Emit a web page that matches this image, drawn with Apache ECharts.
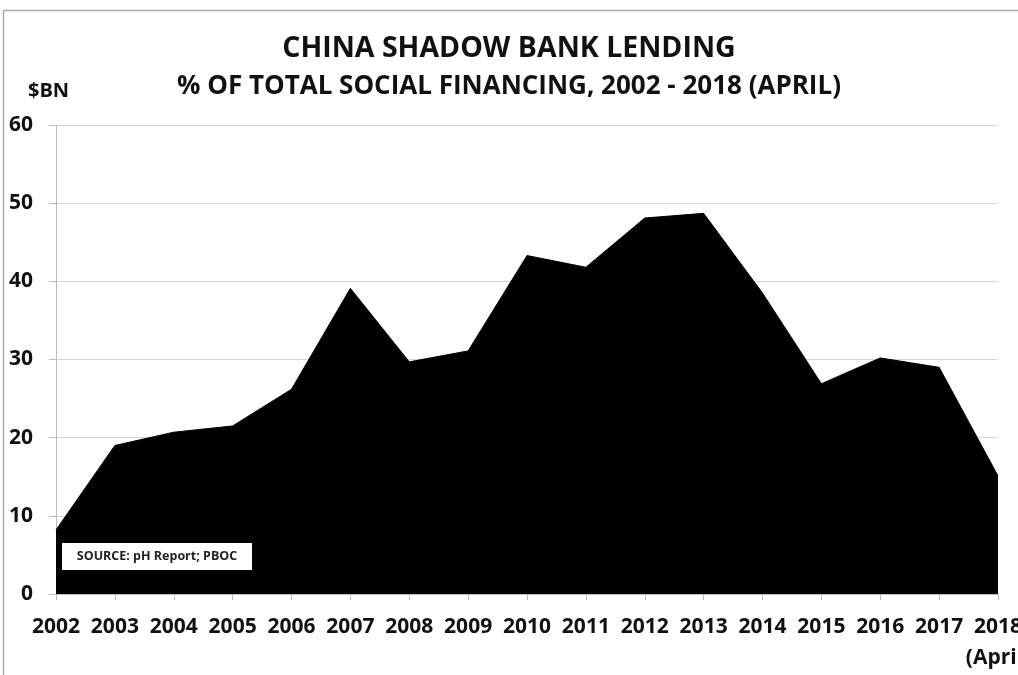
<!DOCTYPE html>
<html>
<head>
<meta charset="utf-8">
<script src="https://cdn.jsdelivr.net/npm/echarts@6/dist/echarts.min.js"></script>
<style>html,body{margin:0;padding:0;background:#fff}#c{width:1018px;height:675px}</style>
</head>
<body>
<div id="c"></div>
<script>
const years = ['2002','2003','2004','2005','2006','2007','2008','2009','2010','2011','2012','2013','2014','2015','2016','2017','2018\n(April)'];
const shadowShare = [8.2, 19.0, 20.7, 21.5, 26.2, 39.1, 29.7, 31.1, 43.3, 41.8, 48.1, 48.7, 38.5, 26.9, 30.2, 29.0, 15.1];
const yTicks = [0, 60, 10];
const titleText = 'CHINA SHADOW BANK LENDING';
const subtitleText = '% OF TOTAL SOCIAL FINANCING, 2002 - 2018 (APRIL)';
const unitText = '$BN';
const sourceText = 'SOURCE: pH Report; PBOC';

const FONT = '"Open Sans", sans-serif';
const chart = echarts.init(document.getElementById('c'), null, {renderer: 'canvas'});
chart.setOption({
  backgroundColor: '#fff',
  animation: false,
  title: [
    {text: titleText, left: 'center', top: 29, textStyle: {fontFamily: FONT, fontWeight: 'bold', fontSize: 28.5, color: '#111'}},
    {text: subtitleText, left: 'center', top: 69, textStyle: {fontFamily: FONT, fontWeight: 'bold', fontSize: 26, color: '#111'}},
    {text: unitText, left: 23, top: 76, textStyle: {fontFamily: FONT, fontWeight: 'bold', fontSize: 20, color: '#111'}}
  ],
  grid: {left: 56, right: 20, top: 125, bottom: 81, outerBoundsMode: 'none', containLabel: false},
  xAxis: {
    type: 'category',
    data: years,
    boundaryGap: false,
    axisLine: {show: true, lineStyle: {color: '#bbb'}},
    axisTick: {show: true, length: 6, lineStyle: {color: '#bbb'}},
    axisLabel: {margin: 18, fontFamily: FONT, fontWeight: 'bold', fontSize: 21, color: '#111', lineHeight: 31, interval: 0, hideOverlap: false},
    splitLine: {show: false}
  },
  yAxis: {
    type: 'value',
    min: yTicks[0], max: yTicks[1], interval: yTicks[2],
    axisLine: {show: true, lineStyle: {color: '#bbb'}},
    axisTick: {show: true, length: 7, lineStyle: {color: '#bbb'}},
    axisLabel: {margin: 23, fontFamily: FONT, fontWeight: 'bold', fontSize: 21, color: '#111'},
    splitLine: {show: true, lineStyle: {color: '#d6d6d6'}}
  },
  series: [{
    type: 'line',
    data: shadowShare,
    symbol: 'none',
    lineStyle: {color: '#000', width: 1},
    areaStyle: {color: '#000', opacity: 1}
  }],
  graphic: [
    {type: 'line', z: 100, shape: {x1: 3.5, y1: 10.5, x2: 1018, y2: 10.5}, style: {stroke: '#aaa', lineWidth: 1.5}},
    {type: 'line', z: 100, shape: {x1: 3.5, y1: 10.5, x2: 3.5, y2: 675}, style: {stroke: '#aaa', lineWidth: 1.5}},
    {type: 'rect', z: 100, shape: {x: 62, y: 543, width: 190, height: 27}, style: {fill: '#fff', stroke: null}},
    {type: 'text', z: 101, x: 157, y: 556.5, style: {text: sourceText, fill: '#222', fontSize: 12.5, fontWeight: 'bold', fontFamily: FONT, textAlign: 'center', textVerticalAlign: 'middle', align: 'center', verticalAlign: 'middle'}}
  ]
});
</script>
</body>
</html>
